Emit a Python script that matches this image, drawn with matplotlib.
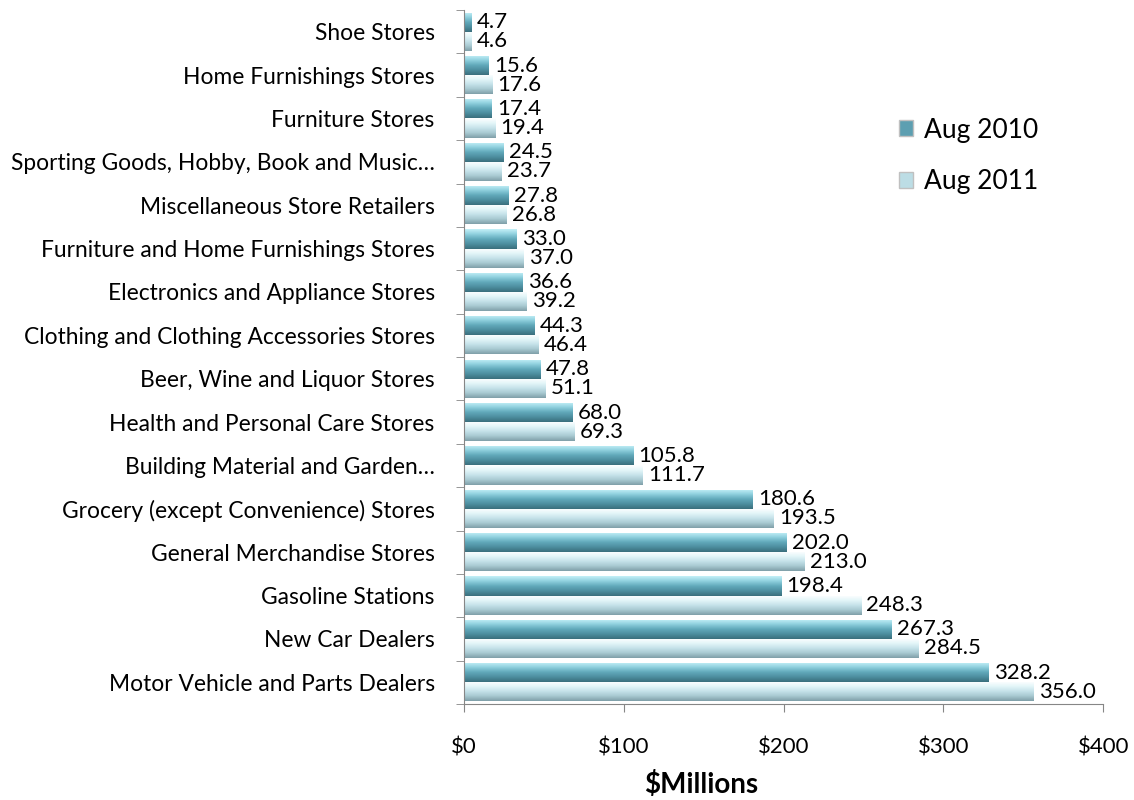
import numpy as np
import matplotlib
matplotlib.use("Agg")
import matplotlib.pyplot as plt
from matplotlib.colors import LinearSegmentedColormap
from matplotlib.patches import Patch

plt.rcParams['font.family'] = ['Lato', 'DejaVu Sans']

# categories, top to bottom
categories = [
    "Shoe Stores",
    "Home Furnishings Stores",
    "Furniture Stores",
    "Sporting Goods, Hobby, Book and Music…",
    "Miscellaneous Store Retailers",
    "Furniture and Home Furnishings Stores",
    "Electronics and Appliance Stores",
    "Clothing and Clothing Accessories Stores",
    "Beer, Wine and Liquor Stores",
    "Health and Personal Care Stores",
    "Building Material and Garden…",
    "Grocery (except Convenience) Stores",
    "General Merchandise Stores",
    "Gasoline Stations",
    "New Car Dealers",
    "Motor Vehicle and Parts Dealers",
]
aug_2010 = [4.7, 15.6, 17.4, 24.5, 27.8, 33.0, 36.6, 44.3, 47.8, 68.0,
            105.8, 180.6, 202.0, 198.4, 267.3, 328.2]
aug_2011 = [4.6, 17.6, 19.4, 23.7, 26.8, 37.0, 39.2, 46.4, 51.1, 69.3,
            111.7, 193.5, 213.0, 248.3, 284.5, 356.0]
series_names = ["Aug 2010", "Aug 2011"]
x_ticks = [0, 100, 200, 300, 400]

# gradient colours (top -> bottom of each bar)
grad_2010 = ["#c4f0f8", "#8fd0de", "#62a9bb", "#4d8e9f", "#3a6f7d"]
grad_2011 = ["#ffffff", "#e4f6f9", "#c6e3ea", "#a8c9d1", "#7f9fa8"]
base_2010 = "#5d9fb1"
base_2011 = "#bcdde5"


def gradient_fill(ax, bars, colors):
    cmap = LinearSegmentedColormap.from_list("g", colors)
    img = np.linspace(0, 1, 64).reshape(-1, 1)
    for p in bars:
        x0, y0 = p.get_x(), p.get_y()
        w, h = p.get_width(), p.get_height()
        im = ax.imshow(img, cmap=cmap, extent=[x0, x0 + w, y0, y0 + h],
                       origin="lower", aspect="auto", zorder=1.5,
                       interpolation="bilinear")
        im.set_clip_path(p)


fig = plt.figure(figsize=(11.34, 8), dpi=100)
ax = fig.add_axes([0.409, 0.12, 0.564, 0.8675])

y = np.arange(len(categories))
h = 0.44
b1 = ax.barh(y - h / 2, aug_2010, height=h, color=base_2010, zorder=1)
b2 = ax.barh(y + h / 2, aug_2011, height=h, color=base_2011, zorder=1)
gradient_fill(ax, b1, grad_2010)
gradient_fill(ax, b2, grad_2011)

ax.bar_label(b1, fmt="%.1f", padding=4, fontsize=16)
ax.bar_label(b2, fmt="%.1f", padding=4, fontsize=16)

ax.set_xlim(0, 400)
ax.set_ylim(len(categories) - 0.5, -0.5)

ax.set_yticks(y)
ax.set_yticklabels(categories, fontsize=16.4)
ax.set_yticks(np.arange(-0.5, len(categories), 1), minor=True)
ax.tick_params(axis="y", which="major", length=0, pad=21)
ax.tick_params(axis="y", which="minor", length=6, color="#868686")

ax.set_xticks(x_ticks)
ax.set_xticklabels([f"${v}" for v in x_ticks], fontsize=16)
ax.tick_params(axis="x", length=6, color="#868686", pad=18)
ax.set_xlabel("$Millions", fontsize=20, fontweight="bold")
ax.xaxis.set_label_coords(0.371, -0.097)

for s in ["top", "right"]:
    ax.spines[s].set_visible(False)
for s in ["left", "bottom"]:
    ax.spines[s].set_color("#868686")

handles = [Patch(facecolor=base_2010, edgecolor="#c0c0c0"),
           Patch(facecolor=base_2011, edgecolor="#c0c0c0")]
ax.legend(handles, series_names, loc="upper left", bbox_to_anchor=(0.643, 0.879),
          frameon=False, fontsize=19, handlelength=0.55, handleheight=0.55,
          handletextpad=0.4, labelspacing=1.0)

fig.savefig("out.png", dpi=100)
